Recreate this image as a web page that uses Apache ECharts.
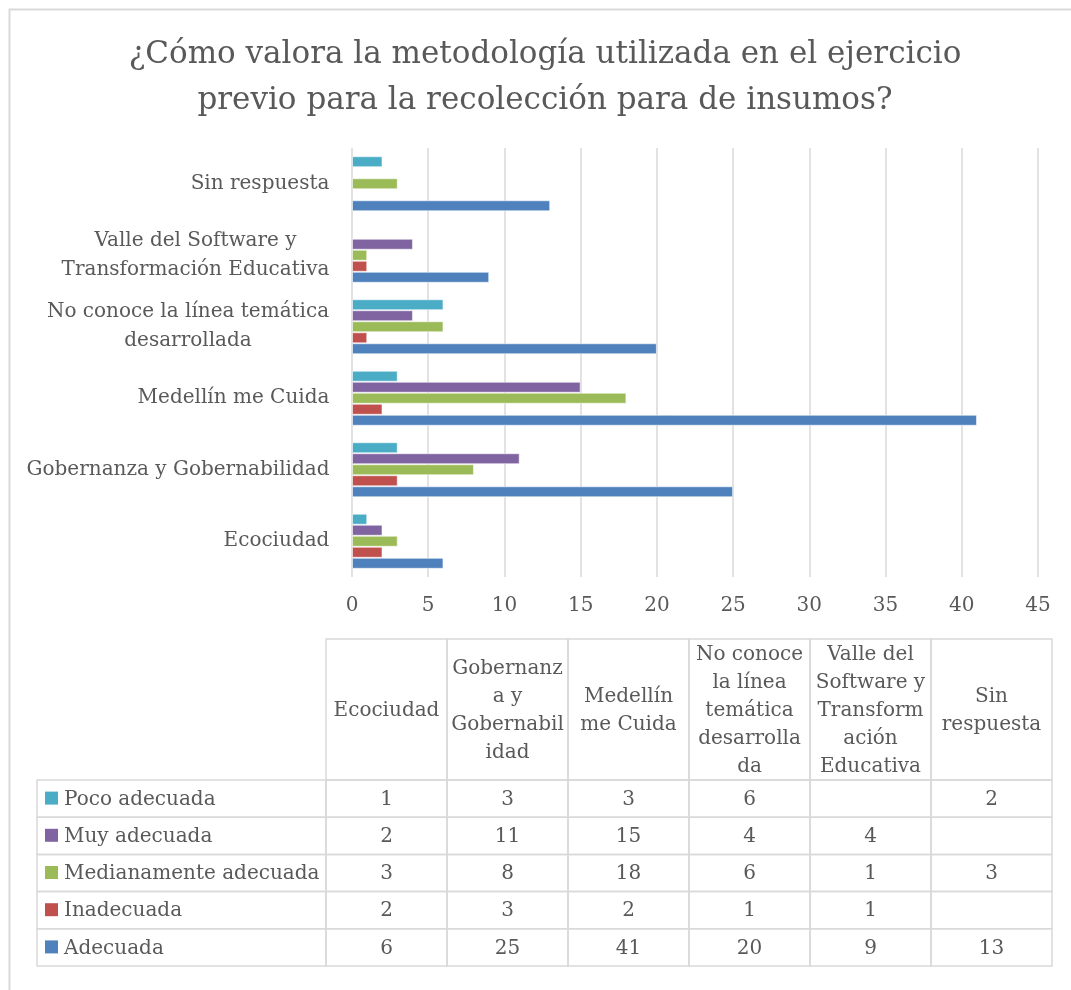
<!DOCTYPE html>
<html>
<head>
<meta charset="utf-8">
<script src="https://cdn.jsdelivr.net/npm/echarts@6/dist/echarts.min.js"></script>
<style>
  html, body { margin: 0; background: #fff; }
  #chart { width: 1071px; height: 990px; }
</style>
</head>
<body>
<div id="chart"></div>
<script>
// categories, bottom to top on the bar axis, left to right in the table
const categories = ['Ecociudad', 'Gobernanza y Gobernabilidad', 'Medellín me Cuida',
  'No conoce la línea temática desarrollada', 'Valle del Software y Transformación Educativa', 'Sin respuesta'];
const axisLabels = ['Ecociudad', 'Gobernanza y Gobernabilidad', 'Medellín me Cuida',
  'No conoce la línea temática\ndesarrollada', 'Valle del Software y\nTransformación Educativa', 'Sin respuesta'];
const headerLabels = ['Ecociudad', 'Gobernanz\na y\nGobernabil\nidad', 'Medellín\nme Cuida',
  'No conoce\nla línea\ntemática\ndesarrolla\nda', 'Valle del\nSoftware y\nTransform\nación\nEducativa', 'Sin\nrespuesta'];

const seriesNames = ['Poco adecuada', 'Muy adecuada', 'Medianamente adecuada', 'Inadecuada', 'Adecuada'];
const seriesColors = ['#4BACC6', '#8064A2', '#9BBB59', '#C0504D', '#4F81BD'];

const pocoAdecuada = [1, 3, 3, 6, null, 2];
const muyAdecuada = [2, 11, 15, 4, 4, null];
const medianamenteAdecuada = [3, 8, 18, 6, 1, 3];
const inadecuada = [2, 3, 2, 1, 1, null];
const adecuada = [6, 25, 41, 20, 9, 13];
const seriesValues = [pocoAdecuada, muyAdecuada, medianamenteAdecuada, inadecuada, adecuada];

const xMax = 45;
const xInterval = 5;

const FONT = 'DejaVu Serif';
const TEXT = '#595959';
const LINE = '#d9d9d9';
const LABEL_SIZE = 20;
const HEADER_H = 141;
const LEGEND_W = 289;

// measure widest line of each axis label so lines can be centred inside a right-aligned block
const ctx = document.createElement('canvas').getContext('2d');
ctx.font = LABEL_SIZE + 'px "' + FONT + '"';
const rich = {};
axisLabels.forEach((lab, i) => {
  const w = Math.max(...lab.split('\n').map(l => ctx.measureText(l).width));
  rich['r' + i] = {width: Math.ceil(w) + 1, align: 'center', fontFamily: FONT, fontSize: LABEL_SIZE,
    color: TEXT, lineHeight: 29};
});

const chart = echarts.init(document.getElementById('chart'));

const barSeries = seriesNames.map((name, i) => ({
  name: name,
  type: 'bar',
  xAxisIndex: 0,
  yAxisIndex: 0,
  data: seriesValues[i],
  barGap: '0%',
  barCategoryGap: '23%',
  itemStyle: {color: seriesColors[i], borderColor: 'rgba(255,255,255,0.55)', borderWidth: 1},
  silent: true
}));

const cellData = [];
seriesValues.forEach((vals, r) => {
  vals.forEach((v, c) => cellData.push([c, r, v == null ? '' : v]));
});

const textStyle = (x, y, text, extra) => Object.assign({
  x: x, y: y, text: text, align: 'center', verticalAlign: 'middle',
  fill: TEXT, fontFamily: FONT, fontSize: LABEL_SIZE
}, extra || {});

const option = {
  animation: false,
  backgroundColor: '#fff',
  title: {
    text: '¿Cómo valora la metodología utilizada en el ejercicio\nprevio para la recolección para de insumos?',
    left: 540,
    top: 27,
    textAlign: 'center',
    textStyle: {fontFamily: FONT, fontSize: 31, fontWeight: 'normal', color: TEXT, lineHeight: 46}
  },
  graphic: [{
    type: 'rect', left: 7, top: 7, silent: true,
    shape: {width: 1100, height: 1010},
    style: {fill: 'none', stroke: LINE, lineWidth: 2}
  }],
  grid: [
    {left: 352, top: 148, width: 686, height: 429},
    {left: 326, top: 780, width: 726, height: 186}
  ],
  xAxis: [{
    gridIndex: 0, type: 'value', min: 0, max: xMax, interval: xInterval,
    axisLine: {show: false}, axisTick: {show: false},
    splitLine: {lineStyle: {color: LINE, width: 1.5}},
    axisLabel: {color: TEXT, fontFamily: FONT, fontSize: LABEL_SIZE, margin: 19}
  }, {
    gridIndex: 1, type: 'category', data: categories, show: false
  }],
  yAxis: [{
    gridIndex: 0, type: 'category', data: categories,
    axisLine: {show: false}, axisTick: {show: false},
    axisLabel: {
      margin: 22, align: 'right', rich: rich,
      formatter: (v, i) => axisLabels[i].split('\n').map(l => '{r' + i + '|' + l + '}').join('\n')
    }
  }, {
    gridIndex: 1, type: 'category', data: seriesNames, inverse: true, show: false
  }],
  series: barSeries.concat([
    {
      // value cells
      type: 'custom', xAxisIndex: 1, yAxisIndex: 1, silent: true,
      data: cellData,
      renderItem: (params, api) => {
        const p = api.coord([api.value(0), api.value(1)]);
        const s = api.size([1, 1]);
        const v = api.value(2);
        return {type: 'group', children: [
          {type: 'rect', shape: {x: p[0] - s[0] / 2, y: p[1] - s[1] / 2, width: s[0], height: s[1]},
            style: {fill: 'none', stroke: LINE, lineWidth: 1.5}},
          {type: 'text', style: textStyle(p[0], p[1] + 1, isNaN(v) ? '' : String(v))}
        ]};
      }
    },
    {
      // header cells with category names
      type: 'custom', xAxisIndex: 1, yAxisIndex: 1, silent: true,
      data: categories.map((c, i) => [i, 0]),
      renderItem: (params, api) => {
        const i = api.value(0);
        const p = api.coord([i, 0]);
        const w = api.size([1, 1])[0];
        const top = params.coordSys.y - HEADER_H;
        return {type: 'group', children: [
          {type: 'rect', shape: {x: p[0] - w / 2, y: top, width: w, height: HEADER_H},
            style: {fill: 'none', stroke: LINE, lineWidth: 1.5}},
          {type: 'text', style: textStyle(p[0], top + HEADER_H / 2 + 1, headerLabels[i], {lineHeight: 28})}
        ]};
      }
    },
    {
      // legend column
      type: 'custom', xAxisIndex: 1, yAxisIndex: 1, silent: true,
      data: seriesNames.map((n, r) => [0, r]),
      renderItem: (params, api) => {
        const r = api.value(1);
        const p = api.coord([0, r]);
        const h = api.size([1, 1])[1];
        const x0 = params.coordSys.x - LEGEND_W;
        return {type: 'group', children: [
          {type: 'rect', shape: {x: x0, y: p[1] - h / 2, width: LEGEND_W, height: h},
            style: {fill: 'none', stroke: LINE, lineWidth: 1.5}},
          {type: 'rect', shape: {x: x0 + 8, y: p[1] - 7, width: 13, height: 13},
            style: {fill: seriesColors[r]}},
          {type: 'text', style: textStyle(x0 + 27, p[1] + 1, seriesNames[r], {align: 'left'})}
        ]};
      }
    }
  ])
};

chart.setOption(option);
</script>
</body>
</html>
